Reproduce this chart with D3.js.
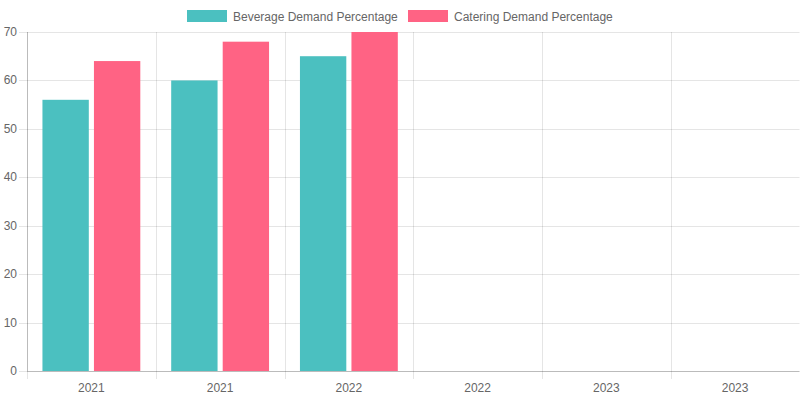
<!DOCTYPE html>
<html>
<head>
<meta charset="utf-8">
<script src="https://cdn.jsdelivr.net/npm/d3@7"></script>
<style>
  body { margin: 0; background: #fff; }
  text { font-family: "Liberation Sans", Arial, sans-serif; }
</style>
</head>
<body>
<div id="chart"></div>
<script>
// data
var years = ["2021", "2021", "2022", "2022", "2023", "2023"]
var beverage = [56, 60, 65, null, null, null]
var catering = [64, 68, 70, null, null, null]
var seriesNames = ["Beverage Demand Percentage", "Catering Demand Percentage"]
var yTicks = [0, 10, 20, 30, 40, 50, 60, 70]

var fills = ["rgba(75,192,192,1)", "rgba(255,99,132,1)"]

var W = 800, H = 400
var margin = {top: 32, right: 0.5, bottom: 29, left: 27}

var svg = d3.select("#chart").append("svg")
    .attr("width", W)
    .attr("height", H)

var idx = d3.range(years.length)

var x = d3.scaleBand()
    .domain(idx)
    .range([margin.left, W - margin.right])

var y = d3.scaleLinear()
    .domain([0, 70])
    .range([H - margin.bottom, margin.top])

var grid = "rgba(0,0,0,0.1)"

// horizontal grid + y ticks
svg.append("g").selectAll("line")
    .data(yTicks)
    .enter().append("line")
    .attr("x1", margin.left - 8)
    .attr("x2", W - margin.right)
    .attr("y1", d => Math.round(y(d)) + 0.5)
    .attr("y2", d => Math.round(y(d)) + 0.5)
    .attr("stroke", grid)

svg.append("g").selectAll("text")
    .data(yTicks)
    .enter().append("text")
    .attr("x", margin.left - 10)
    .attr("y", d => y(d))
    .attr("text-anchor", "end")
    .attr("dominant-baseline", "central")
    .attr("font-size", "12px")
    .attr("fill", "#666")
    .text(d => d)

// vertical grid lines at category edges
var edges = idx.map(i => x(i)).concat([W - margin.right])
svg.append("g").selectAll("line")
    .data(edges)
    .enter().append("line")
    .attr("x1", d => Math.round(d) + 0.5)
    .attr("x2", d => Math.round(d) + 0.5)
    .attr("y1", margin.top)
    .attr("y2", H - margin.bottom + 8)
    .attr("stroke", grid)

// axis lines
svg.append("line")
    .attr("x1", margin.left + 0.5).attr("x2", margin.left + 0.5)
    .attr("y1", margin.top).attr("y2", H - margin.bottom)
    .attr("stroke", "rgba(0,0,0,0.18)")
svg.append("line")
    .attr("x1", margin.left).attr("x2", W - margin.right)
    .attr("y1", Math.round(y(0)) + 0.5).attr("y2", Math.round(y(0)) + 0.5)
    .attr("stroke", "rgba(0,0,0,0.18)")

// x labels
svg.append("g").selectAll("text")
    .data(idx)
    .enter().append("text")
    .attr("x", d => x(d) + x.bandwidth() / 2)
    .attr("y", H - margin.bottom + 17)
    .attr("text-anchor", "middle")
    .attr("dominant-baseline", "central")
    .attr("font-size", "12px")
    .attr("fill", "#666")
    .text(d => years[d])

// bars: categoryPercentage 0.8, barPercentage 0.9
var inner = d3.scaleBand()
    .domain([0, 1])
    .range([0, x.bandwidth() * 0.8])

var allSeries = [beverage, catering]
allSeries.forEach(function(vals, s) {
  var slot = inner.bandwidth()
  var bw = slot * 0.9
  svg.append("g").selectAll("rect")
      .data(idx.filter(i => vals[i] != null))
      .enter().append("rect")
      .attr("x", i => x(i) + x.bandwidth() * 0.1 + inner(s) + (slot - bw) / 2)
      .attr("y", i => y(vals[i]))
      .attr("width", bw)
      .attr("height", i => y(0) - y(vals[i]))
      .attr("fill", fills[s])
})

// legend
var legend = svg.append("g")
var lx = [187, 408]
seriesNames.forEach(function(name, i) {
  legend.append("rect")
      .attr("x", lx[i]).attr("y", 10)
      .attr("width", 40).attr("height", 12)
      .attr("fill", fills[i])
  legend.append("text")
      .attr("x", lx[i] + 46).attr("y", 16.5)
      .attr("dominant-baseline", "central")
      .attr("font-size", "12px")
      .attr("fill", "#666")
      .text(name)
})
</script>
</body>
</html>
